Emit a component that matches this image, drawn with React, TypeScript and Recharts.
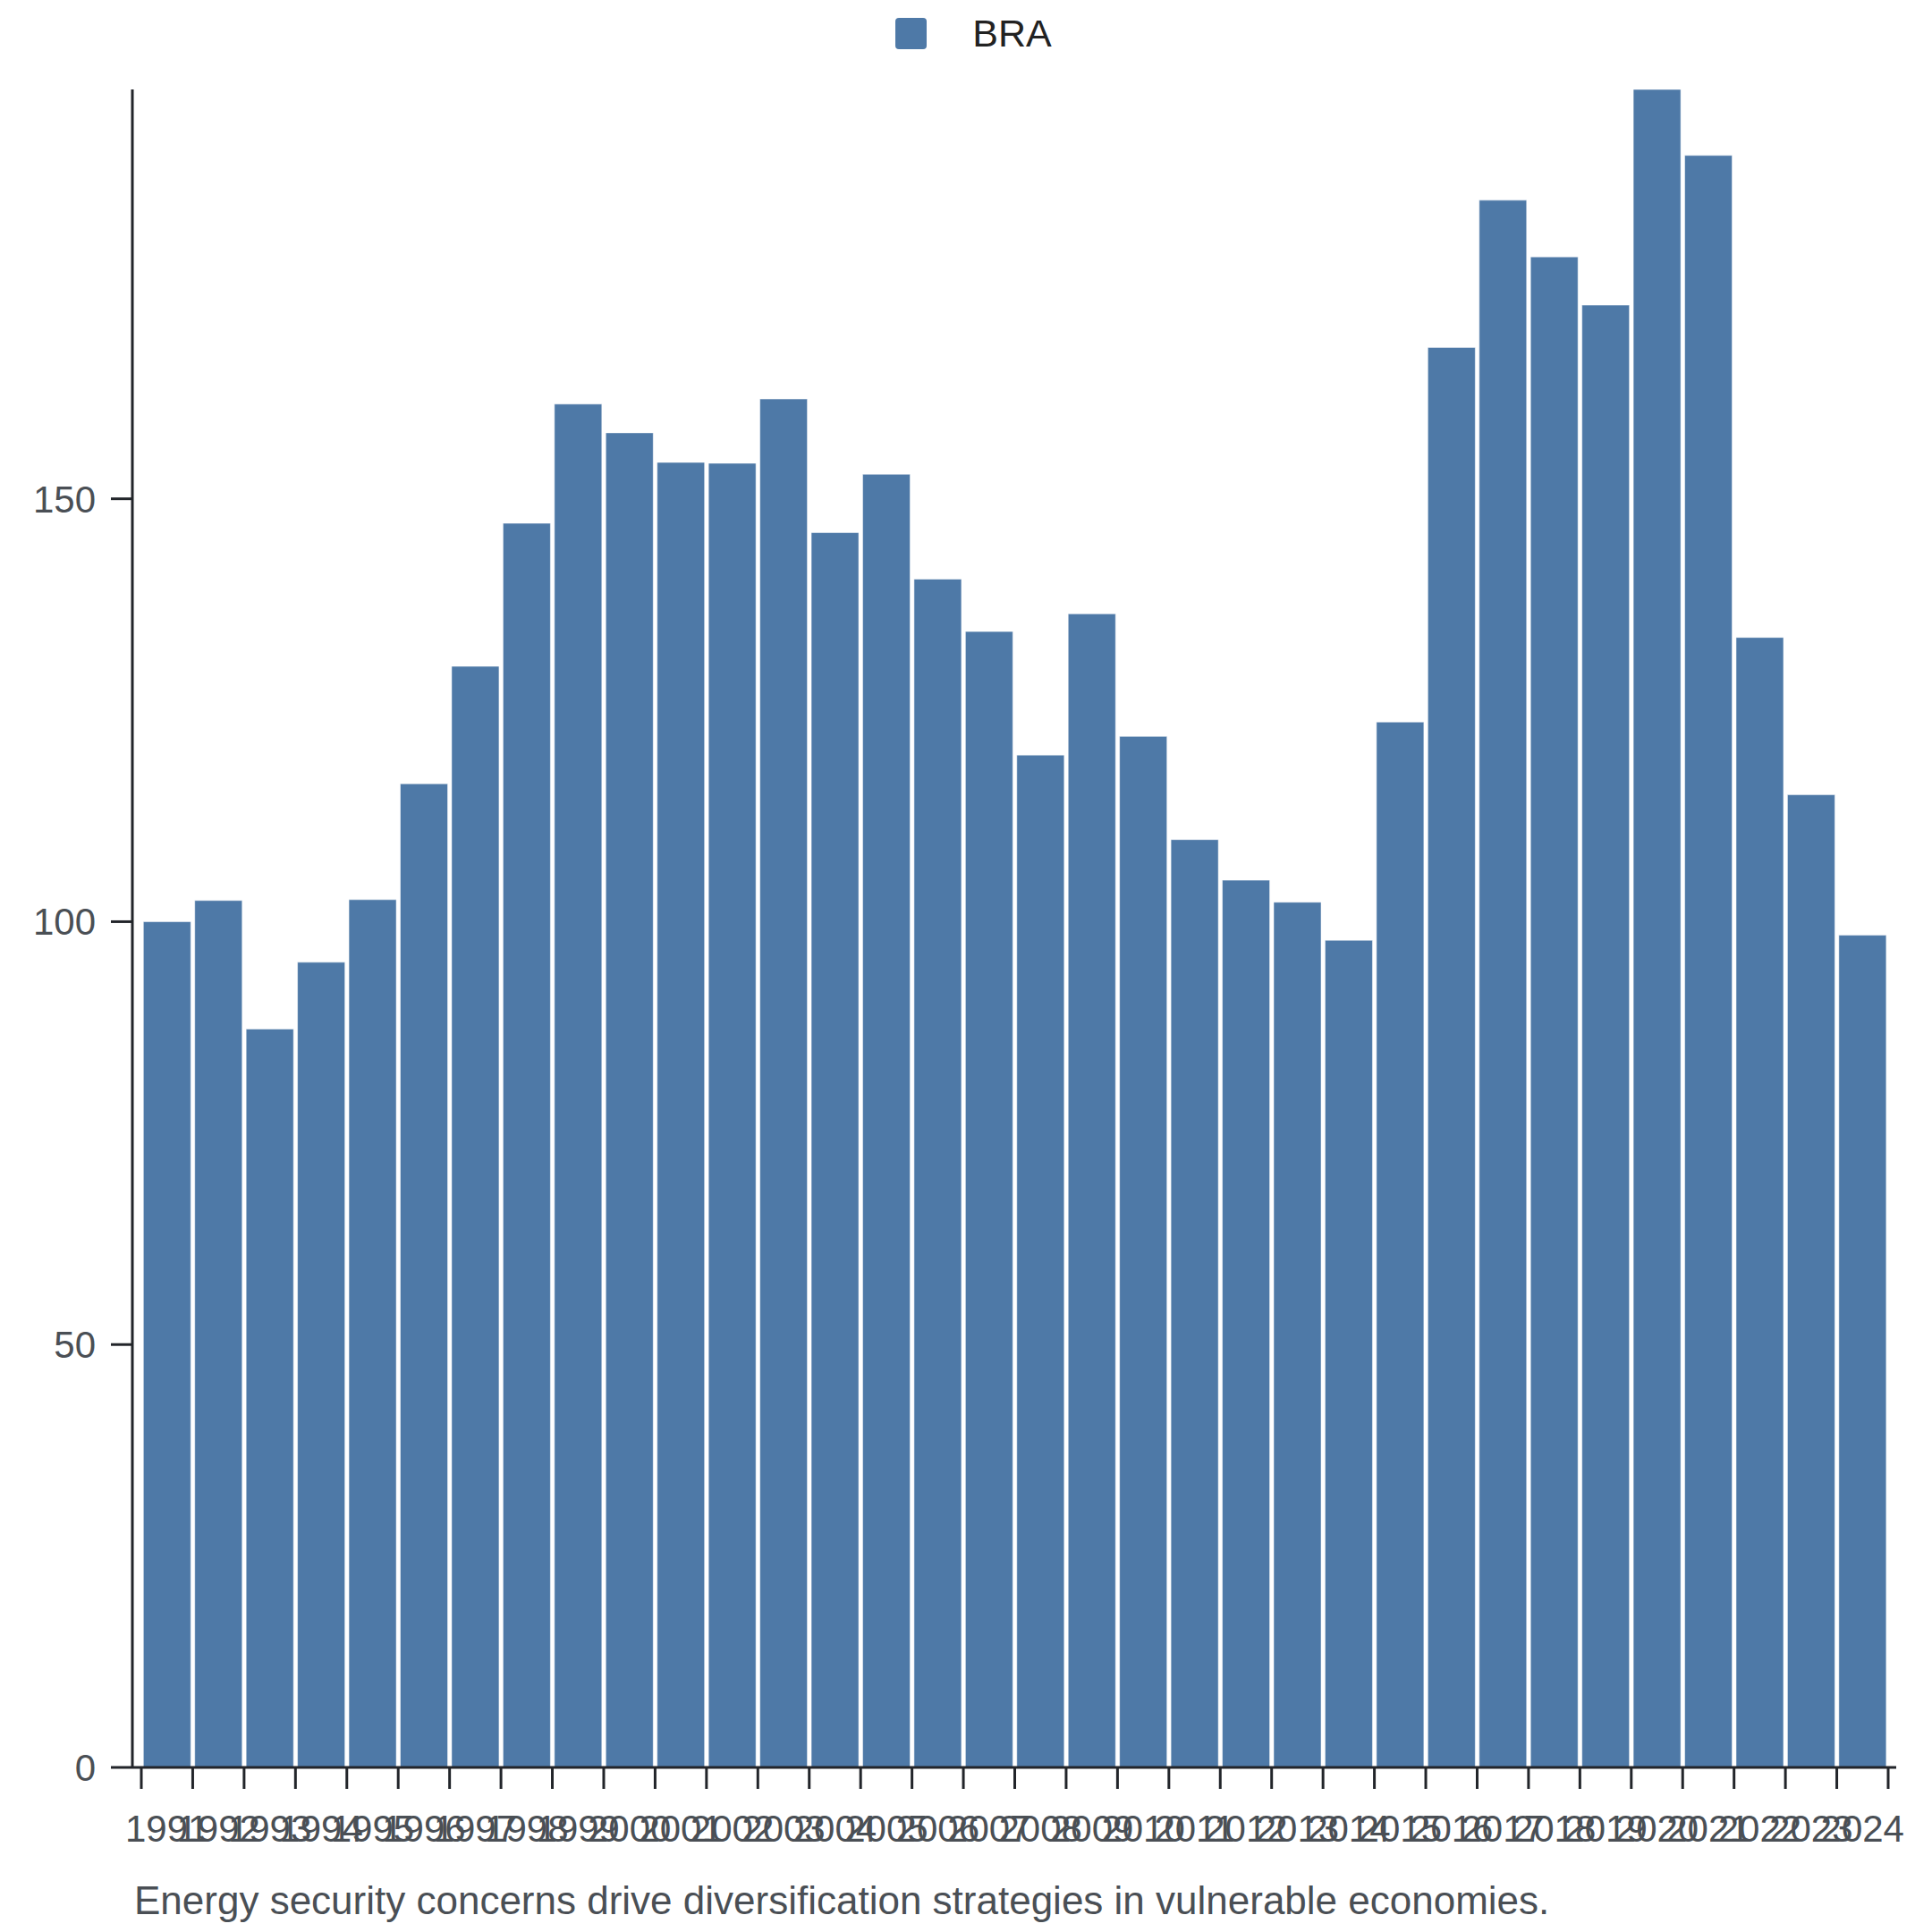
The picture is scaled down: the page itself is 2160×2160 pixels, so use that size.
import { Bar, BarChart, Legend, XAxis, YAxis } from "recharts"

const years = [
  "1991", "1992", "1993", "1994", "1995", "1996", "1997", "1998", "1999", "2000",
  "2001", "2002", "2003", "2004", "2005", "2006", "2007", "2008", "2009", "2010",
  "2011", "2012", "2013", "2014", "2015", "2016", "2017", "2018", "2019", "2020",
  "2021", "2022", "2023", "2024",
]

const braValues = [
  100, 102.5, 87.3, 95.2, 102.6, 116.3, 130.2, 147.1, 161.2, 157.8,
  154.3, 154.2, 161.8, 146.0, 152.9, 140.5, 134.3, 119.7, 136.4, 121.9,
  109.7, 104.9, 102.3, 97.8, 123.6, 167.9, 185.3, 178.6, 172.9, 198.4,
  190.6, 133.6, 115.0, 98.4,
]

const yTicks = [0, 50, 100, 150]

const seriesName = "BRA"
const caption = "Energy security concerns drive diversification strategies in vulnerable economies."

const data = years.map((year, i) => ({ year, [seriesName]: braValues[i] }))

const FONT = "'Liberation Sans', Arial, Helvetica, sans-serif"
const BAR_COLOR = "#4e79a7"
const AXIS_COLOR = "#22252a"
const TEXT_COLOR = "#4a4f55"
const TICK_FONT = 42

const CHART_W = 2160
const CHART_H = 2160
const MARGIN = { top: 25, right: 40, left: 0, bottom: 74 }
const Y_AXIS_W = 148
const X_AXIS_H = 110
const PAD_L = 10
const PAD_R = 9
const TICK_SIZE = 24
const X_TICK_MARGIN = 28

const plotWidth = CHART_W - MARGIN.left - MARGIN.right - Y_AXIS_W
const halfBand = (plotWidth - PAD_L - PAD_R) / years.length / 2

// ticks sit on the bar edges, labels on the bar centres
const YearTick = (props: any) => {
  const { x, y, payload, index } = props
  const axisY = y - TICK_SIZE - X_TICK_MARGIN
  const left = x - halfBand
  const right = x + halfBand

  return (
    <g>
      <line x1={left} x2={left} y1={axisY} y2={axisY + TICK_SIZE} stroke={AXIS_COLOR} strokeWidth={3} />
      {index === years.length - 1 && (
        <line x1={right} x2={right} y1={axisY} y2={axisY + TICK_SIZE} stroke={AXIS_COLOR} strokeWidth={3} />
      )}
      <text x={x} y={y} dy="0.73em" textAnchor="middle" fill={TEXT_COLOR} fontSize={TICK_FONT} fontFamily={FONT}>
        {payload.value}
      </text>
    </g>
  )
}

const LegendContent = () => (
  <div
    style={{
      display: "flex",
      justifyContent: "center",
      alignItems: "center",
      height: 75,
      paddingLeft: 17,
      fontFamily: FONT,
      fontSize: 43,
      color: "#222222",
    }}
  >
    <span style={{ width: 35, height: 35, borderRadius: 4, background: BAR_COLOR, marginRight: 51 }} />
    <span>{seriesName}</span>
  </div>
)

export default function App() {
  return (
    <div style={{ position: "absolute", left: 0, top: 0, width: CHART_W, height: CHART_H, background: "#ffffff" }}>
      <BarChart width={CHART_W} height={CHART_H} data={data} margin={MARGIN} barCategoryGap="4%">
        <Legend
          verticalAlign="top"
          content={<LegendContent />}
          wrapperStyle={{ top: 0, left: 0, width: CHART_W }}
        />
        <XAxis
          dataKey="year"
          height={X_AXIS_H}
          interval={0}
          padding={{ left: PAD_L, right: PAD_R }}
          tickSize={TICK_SIZE}
          tickMargin={X_TICK_MARGIN}
          tickLine={false}
          axisLine={{ stroke: AXIS_COLOR, strokeWidth: 3 }}
          tick={<YearTick />}
        />
        <YAxis
          type="number"
          domain={[0, "dataMax"]}
          ticks={yTicks}
          width={Y_AXIS_W}
          tickSize={TICK_SIZE}
          tickMargin={17}
          axisLine={{ stroke: AXIS_COLOR, strokeWidth: 3 }}
          tickLine={{ stroke: AXIS_COLOR, strokeWidth: 3 }}
          tick={{ fill: TEXT_COLOR, fontSize: TICK_FONT, fontFamily: FONT }}
        />
        <Bar
          dataKey={seriesName}
          fill={BAR_COLOR}
          stroke="#ffffff"
          strokeOpacity={0.5}
          strokeWidth={1}
          isAnimationActive={false}
        />
      </BarChart>
      <div
        style={{
          position: "absolute",
          left: 150,
          top: 2103,
          fontFamily: FONT,
          fontSize: 44,
          lineHeight: 1,
          color: TEXT_COLOR,
          whiteSpace: "nowrap",
        }}
      >
        {caption}
      </div>
    </div>
  )
}
